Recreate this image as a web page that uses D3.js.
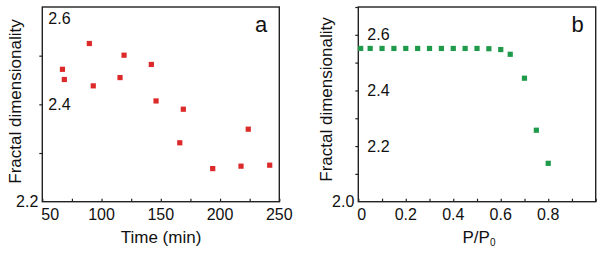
<!DOCTYPE html>
<html><head><meta charset="utf-8">
<script src="https://cdn.jsdelivr.net/npm/d3@7"></script>
<style>
html,body{margin:0;padding:0;background:#fff;}
svg{display:block;font-family:"Liberation Sans",Arial,sans-serif;}
</style></head>
<body>
<svg id="c" width="604" height="254"></svg>
<script>
// Panel a data
const timeMin  = [67, 68.6, 89.7, 93, 115.6, 119, 142, 146, 166, 169, 193.8, 217.7, 223.8, 241.9];
const fractalA = [2.472, 2.451, 2.525, 2.438, 2.455, 2.501, 2.482, 2.407, 2.321, 2.390, 2.268, 2.273, 2.349, 2.275];
const xTicksA = [50, 100, 150, 200, 250];
const yTicksA = [2.2, 2.4, 2.6];
// Panel b data
const pressure = [0.01, 0.05, 0.1, 0.15, 0.2, 0.25, 0.3, 0.35, 0.4, 0.45, 0.5, 0.55, 0.6, 0.64, 0.7, 0.75, 0.8];
const fractalB = [2.551, 2.551, 2.551, 2.551, 2.551, 2.551, 2.551, 2.551, 2.551, 2.551, 2.551, 2.550, 2.547, 2.530, 2.444, 2.257, 2.138];
const xTicksB = [0, 0.2, 0.4, 0.6, 0.8];
const yTicksB = [2.0, 2.2, 2.4, 2.6];

const svg = d3.select("#c");
const FS = 16;

function panel(o) {
  const g = svg.append("g");
  const x = d3.scaleLinear().domain(o.xDomain).range([o.left, o.right]);
  const y = d3.scaleLinear().domain(o.yDomain).range([o.bottom, o.top]);

  // minor + major x ticks (inward)
  const xAx = d3.axisBottom(x).tickValues(o.xMinor).tickSize(-3).tickFormat("");
  const gx = g.append("g").attr("transform", `translate(0,${o.bottom})`).call(xAx);
  gx.select(".domain").remove();
  gx.selectAll("line").attr("stroke", "#222").attr("stroke-width", 1.2);

  const yAx = d3.axisLeft(y).tickValues(o.yMinor).tickSize(3).tickFormat("");
  const gy = g.append("g").attr("transform", `translate(${o.left},0)`).call(yAx);
  gy.select(".domain").remove();
  gy.selectAll("line").attr("stroke", "#222").attr("stroke-width", 1.2);

  // frame
  g.append("rect").attr("x", o.left).attr("y", o.top)
    .attr("width", o.right - o.left).attr("height", o.bottom - o.top)
    .attr("fill", "none").attr("stroke", "#222").attr("stroke-width", 1.4);

  // x tick labels
  g.selectAll(".xl").data(o.xTicks).enter().append("text")
    .attr("x", (d, i) => i === 0 ? x(d) - 1 : x(d))
    .attr("y", o.bottom + 18.5)
    .attr("text-anchor", (d, i) => i === 0 ? "start" : "middle")
    .attr("font-size", FS).attr("fill", "#111")
    .text(o.xFmt);

  // y tick labels
  g.selectAll(".yl").data(o.yTicks).enter().append("text")
    .attr("x", (d, i) => i === 0 ? o.left - 4 : o.left + o.inset)
    .attr("y", d => Math.max(y(d), o.top + 11) + 5.5)
    .attr("text-anchor", (d, i) => i === 0 ? "end" : "start")
    .attr("font-size", FS).attr("fill", "#111")
    .text(d => d.toFixed(1));

  // markers
  const data = d3.zip(o.xs, o.ys);
  g.selectAll(".m").data(data).enter().append("rect")
    .attr("x", d => x(d[0]) - 2.6).attr("y", d => y(d[1]) - 2.6)
    .attr("width", 5.2).attr("height", 5.2).attr("fill", o.color);

  // panel letter
  g.append("text").attr("x", o.right - 12).attr("y", o.top + 25)
    .attr("text-anchor", "end").attr("font-size", 22).attr("fill", "#111").text(o.letter);

  // y title
  g.append("text").attr("transform", `translate(${o.yTitleX},${o.yTitleY}) rotate(-90)`)
    .attr("text-anchor", "middle").attr("font-size", 17).attr("fill", "#111")
    .text("Fractal dimensionality");
  return {g, x, y};
}

const A = panel({
  left: 42.3, right: 279.3, top: 7, bottom: 201.7,
  xDomain: [50, 250], yDomain: [2.2, 2.6],
  xMinor: d3.range(50, 251, 25), yMinor: [2.3, 2.4, 2.5],
  xTicks: xTicksA, yTicks: yTicksA, xFmt: d => d,
  inset: 6, xs: timeMin, ys: fractalA, color: "#dc2a2a", letter: "a",
  yTitleX: 20.5, yTitleY: 101.5
});
A.g.append("text").attr("x", 161).attr("y", 243).attr("text-anchor", "middle")
  .attr("font-size", 17).attr("fill", "#111").text("Time (min)");

const B = panel({
  left: 358.3, right: 595.7, top: 7, bottom: 201.7,
  xDomain: [0, 1], yDomain: [2.0, 2.7],
  xMinor: d3.range(0, 1.001, 0.1), yMinor: d3.range(2.1, 2.71, 0.1),
  xTicks: xTicksB, yTicks: yTicksB, xFmt: d => d === 0 ? "0" : d.toFixed(1),
  inset: 9, xs: pressure, ys: fractalB, color: "#1f9a4a", letter: "b",
  yTitleX: 332, yTitleY: 99.5
});
const t = B.g.append("text").attr("x", 479).attr("y", 243).attr("text-anchor", "middle")
  .attr("font-size", 17).attr("fill", "#111");
t.append("tspan").text("P/P");
t.append("tspan").attr("font-size", 10).attr("dy", 3).text("0");
</script>
</body></html>
